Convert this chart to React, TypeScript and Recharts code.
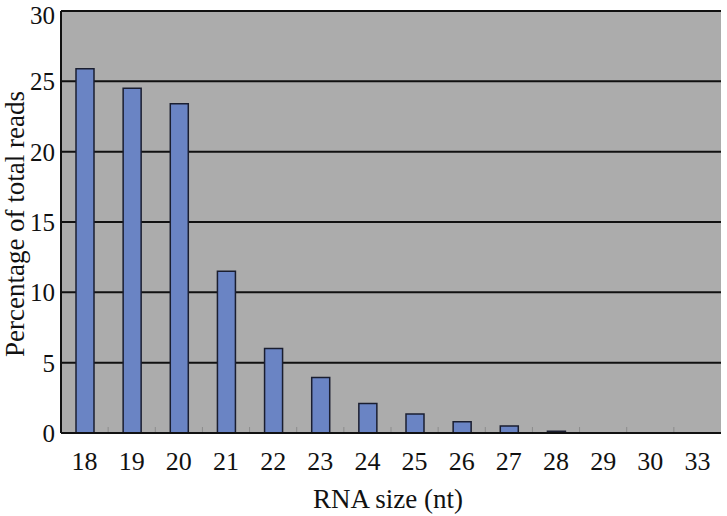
import React from 'react';
import { BarChart, Bar, XAxis, YAxis, CartesianGrid } from 'recharts';

const categories = ['18', '19', '20', '21', '22', '23', '24', '25', '26', '27', '28', '29', '30', '33'];
const percentages = [25.9, 24.5, 23.4, 11.5, 6.0, 3.95, 2.1, 1.35, 0.8, 0.5, 0.12, 0, 0, 0];
const yTicks = [0, 5, 10, 15, 20, 25, 30];

const data = categories.map((c, i) => ({ size: c, pct: percentages[i] }));

const FONT = '"Times New Roman", Times, "Liberation Serif", Tinos, "Nimbus Roman", FreeSerif, "Noto Serif", "DejaVu Serif", serif';

const XTick = (props: any) => {
  const { x, y, payload } = props;
  const axisY = y - 6 - 13;
  const off = payload && payload.offset ? payload.offset : 0;
  return (
    <g>
      {payload.index > 0 ? (
        <line x1={x - off} x2={x - off} y1={axisY - 1} y2={axisY - 6} stroke="#8c8c8c" strokeWidth={1} />
      ) : null}
      <text
        x={x}
        y={y}
        dy="0.71em"
        textAnchor="middle"
        fontSize={26}
        fill="#111"
        style={{ fontFamily: FONT }}
      >
        {payload.value}
      </text>
    </g>
  );
};

const YTick = (props: any) => {
  const { x, y, payload } = props;
  const shift = payload.value === 30 ? 4 : 0;
  return (
    <text
      x={x}
      y={y + shift}
      dy="0.355em"
      textAnchor="end"
      fontSize={25}
      fill="#111"
      style={{ fontFamily: FONT }}
    >
      {payload.value}
    </text>
  );
};

export default function App() {
  return (
    <div
      style={{
        position: 'absolute',
        left: 0,
        top: 0,
        width: 727,
        height: 516,
        background: '#fff',
        fontFamily: FONT,
      }}
    >
      <BarChart
        width={727}
        height={516}
        data={data}
        margin={{ top: 11, right: 6, left: 0, bottom: 0 }}
        barCategoryGap={0}
        style={{ fontFamily: FONT }}
      >
        <CartesianGrid vertical={false} stroke="#111" strokeWidth={2} fill="#acacac" />
        <XAxis
          dataKey="size"
          height={83}
          tickLine={false}
          axisLine={{ stroke: '#111', strokeWidth: 2 }}
          tick={<XTick />}
          tickMargin={13}
          interval={0}
          label={{
            content: () => (
              <text x={388} y={508} textAnchor="middle" fontSize={27} style={{ fontFamily: FONT }} fill="#111">
                RNA size (nt)
              </text>
            ),
          }}
        />
        <YAxis
          width={61}
          domain={[0, 30]}
          ticks={yTicks}
          interval={0}
          tickLine={false}
          tickMargin={0}
          axisLine={{ stroke: '#111', strokeWidth: 2 }}
          tick={<YTick />}
          label={{
            content: () => (
              <text
                x={24}
                y={224}
                textAnchor="middle"
                fontSize={27}
                style={{ fontFamily: FONT }}
                fill="#111"
                transform="rotate(-90 24 224)"
              >
                Percentage of total reads
              </text>
            ),
          }}
        />
        <YAxis
          yAxisId="right"
          orientation="right"
          width={0}
          domain={[0, 30]}
          tick={false}
          tickLine={false}
          axisLine={{ stroke: '#666', strokeWidth: 1.5 }}
        />
        <Bar
          dataKey="pct"
          barSize={18}
          fill="#6a84c4"
          stroke="#1a1e30"
          strokeWidth={1.5}
          isAnimationActive={false}
        />
      </BarChart>
    </div>
  );
}
